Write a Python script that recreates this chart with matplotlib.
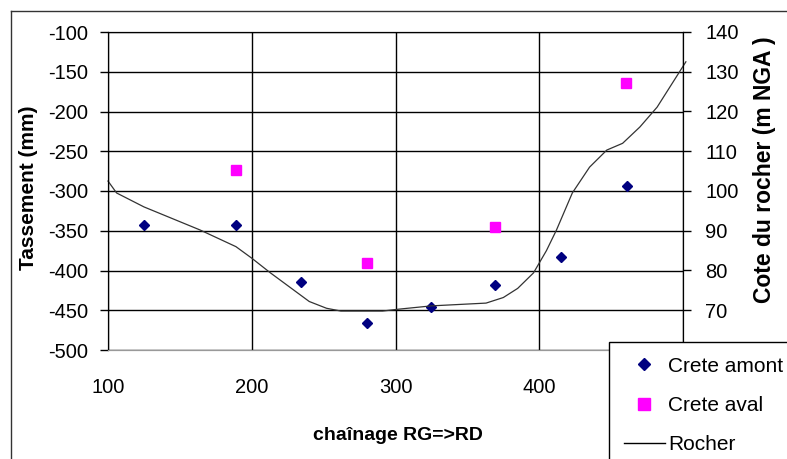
import matplotlib
matplotlib.use('Agg')
import matplotlib.pyplot as plt
from matplotlib.lines import Line2D

plt.rcParams['font.family'] = ['Liberation Sans', 'DejaVu Sans']
plt.rcParams['axes.unicode_minus'] = False

# settlement at the crest (left axis, mm)
x_amont = [125, 189, 234, 280, 325, 369, 415, 461]
y_amont = [-343, -343, -414, -466, -446, -418, -383, -294]
x_aval = [189, 280, 369, 460]
y_aval = [-273, -391, -345, -164]

# rock level (right axis, m NGA)
x_rocher = [100, 106, 125, 164, 189, 200, 213, 240, 252, 262, 291, 303, 325, 363,
            375, 385, 396, 405, 412, 423, 435, 447, 458, 470, 482, 502]
y_rocher = [102.5, 99.5, 96, 90.2, 86, 83.1, 79.4, 72.2, 70.5, 69.8, 69.8, 70.3,
            71.1, 71.8, 73.2, 75.5, 79.4, 85, 90.2, 99.5, 106, 110.3, 112, 116.1,
            121.1, 132.5]

left_ticks = [-500, -450, -400, -350, -300, -250, -200, -150, -100]
right_ticks = [60, 70, 80, 90, 100, 110, 120, 130, 140]
x_ticks = [100, 200, 300, 400, 500]

W, H = 787, 459
fig = plt.figure(figsize=(W / 100, H / 100), dpi=100)
ax = fig.add_axes([108 / W, 1 - 350 / H, (683 - 108) / W, (350 - 32) / H])
ax2 = ax.twinx()

ax.set_xlim(100, 500)
ax.set_ylim(-500, -100)
ax2.set_ylim(60, 140)

ax.set_xticks(x_ticks)
ax.set_yticks(left_ticks)
ax2.set_yticks(right_ticks)

ax.grid(True, color='black', linewidth=1.0)
ax.set_axisbelow(True)

for sp in ['left', 'top', 'right']:
    ax.spines[sp].set_color('black')
    ax2.spines[sp].set_color('black')
ax.spines['bottom'].set_color('#999999')
ax2.spines['bottom'].set_color('#999999')

ax.tick_params(axis='y', length=6, width=1, pad=8, labelsize=14.5, colors='black')
ax.tick_params(axis='x', length=0, pad=20, labelsize=14.5)
ax2.tick_params(axis='y', length=6, width=1, pad=10, labelsize=14.5)

ax.plot(x_amont, y_amont, linestyle='none', marker='D', markersize=5.5,
        color='#000080', zorder=3)
ax.plot(x_aval, y_aval, linestyle='none', marker='s', markersize=7,
        color='#FF00FF', zorder=3)
ax2.plot(x_rocher, y_rocher, color='#333333', linewidth=0.9, clip_on=False)

fig.text(29 / W, 1 - 188 / H, 'Tassement (mm)', rotation=90, fontsize=15,
         fontweight='bold', ha='center', va='center')
fig.text(765 / W, 1 - 170 / H, 'Cote du rocher (m NGA )', rotation=90,
         fontsize=16.5, fontweight='bold', ha='center', va='center')
fig.text(398 / W, 1 - 435 / H, 'chaînage RG=>RD', fontsize=14,
         fontweight='bold', ha='center', va='center')

# outer frame (left and top edges visible)
fig.add_artist(Line2D([11 / W, 11 / W], [0, 1 - 11 / H], transform=fig.transFigure,
                      color='#333333', linewidth=1))
fig.add_artist(Line2D([11 / W, 1], [1 - 11 / H, 1 - 11 / H], transform=fig.transFigure,
                      color='#333333', linewidth=1))

handles = [
    Line2D([], [], linestyle='none', marker='D', markersize=6.5, color='#000080'),
    Line2D([], [], linestyle='none', marker='s', markersize=8, color='#FF00FF'),
    Line2D([], [], color='black', linewidth=1),
]
leg = fig.legend(handles, ['Crete amont', 'Crete aval', 'Rocher'],
                 loc='upper left', bbox_to_anchor=(609 / W, 1 - 342 / H),
                 borderaxespad=0, fontsize=15, frameon=True, fancybox=False,
                 shadow=False, framealpha=1, edgecolor='black', handlelength=2.0,
                 handletextpad=0.15, borderpad=0.7, labelspacing=0.97)
leg.get_frame().set_linewidth(1)

fig.savefig('out.png', dpi=100)
